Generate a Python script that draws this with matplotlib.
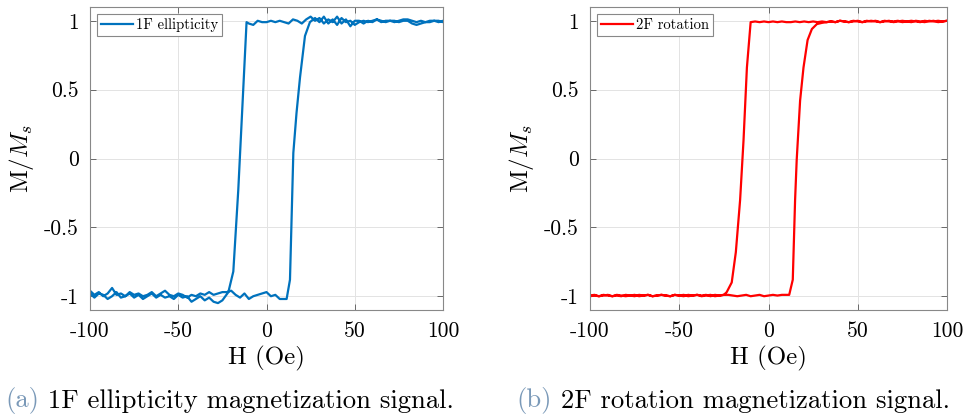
import numpy as np
import matplotlib
matplotlib.use("Agg")
import matplotlib.pyplot as plt

plt.rcParams['font.family'] = ['cmr10', 'DejaVu Serif']
plt.rcParams['mathtext.fontset'] = 'cm'
plt.rcParams['axes.unicode_minus'] = False

# ---- 1F ellipticity loop (blue) ----
# increasing field sweep: flat part, switching points, saturated part
blue_up_H = np.concatenate([np.arange(-100, 10.1, 2.5),
                            [11.4, 13.3, 15.2, 17.0, 19.0, 21.8, 24.6],
                            np.arange(27.5, 100.1, 2.5)])
blue_up_M = [-0.96, -0.99, -0.97, -1.00, -0.98, -0.94, -0.99, -0.98, -1.00, -0.97,
             -0.99, -0.98, -1.00, -0.99, -0.97, -1.00, -0.98, -0.96, -0.99, -1.00,
             -0.98, -0.99, -1.01, -0.99, -1.00, -0.98, -0.99, -0.97, -0.99, -0.98,
             -0.97, -0.97, -0.96, -0.99, -1.01, -0.98, -1.02, -1.00, -0.99, -0.98,
             -0.97, -1.00, -0.99, -1.02, -1.02,
             -1.02, -0.88, 0.04, 0.33, 0.59, 0.89, 0.99,
             1.02, 0.99, 1.03, 0.98, 1.01, 0.97, 1.02, 0.99, 1.00, 0.97,
             0.99, 1.00, 0.99, 1.00, 1.01, 0.99, 1.00, 1.00, 0.99, 1.00,
             1.01, 1.01, 1.00, 0.99, 1.00, 0.99, 1.00, 1.00, 0.99, 1.00]

# decreasing field sweep
blue_down_H = np.concatenate([np.arange(100, -10.1, -2.5),
                              [-11.3, -13.1, -16.0, -18.8, -21.6],
                              np.arange(-25, -100.1, -2.5)])
blue_down_M = [0.99, 1.00, 1.00, 0.99, 0.99, 0.98, 0.97, 0.98, 1.00, 1.00,
               0.99, 1.00, 1.00, 0.99, 1.00, 1.01, 0.99, 1.00, 0.98, 1.00,
               1.00, 0.96, 1.01, 0.98, 1.03, 0.99, 1.01, 0.98, 1.02, 1.00,
               1.03, 1.01, 0.98, 1.00, 1.01, 0.98, 0.99, 1.00, 0.99, 1.00,
               0.99, 0.99, 1.00, 0.97, 0.98,
               0.99, 0.52, -0.23, -0.82, -0.97,
               -1.03, -1.05, -1.04, -1.01, -1.03, -1.00, -1.02, -1.04, -1.00, -1.01,
               -0.99, -1.02, -1.00, -1.01, -0.99, -1.01, -0.98, -1.00, -1.02, -0.99,
               -1.01, -0.98, -1.00, -1.01, -0.97, -1.00, -1.02, -0.99, -0.98, -1.01,
               -0.98]

# ---- 2F rotation loop (red) ----
red_up_H = np.concatenate([np.arange(-100, 10.1, 2.5),
                           [11.6, 13.6, 14.9, 15.8, 17.7, 19.6, 21.9, 24.3, 27.1],
                           np.arange(30, 100.1, 2.5)])
red_up_M = [-0.995, -0.99, -1.0, -0.995, -0.99, -1.0, -0.995, -1.0, -0.99, -0.995,
            -1.0, -0.99, -0.995, -0.99, -1.0, -0.995, -0.99, -0.995, -1.0, -0.99,
            -0.995, -0.99, -1.0, -0.995, -0.99, -0.995, -0.99, -1.0, -0.99, -0.995,
            -0.99, -0.99, -0.995, -1.0, -0.995, -0.99, -1.0, -0.995, -0.99, -1.0,
            -0.995, -0.99, -0.995, -0.99, -0.99,
            -0.99, -0.88, -0.30, -0.01, 0.42, 0.66, 0.86, 0.94, 0.976,
            0.985, 0.99, 0.995, 0.99, 1.0, 0.995, 0.99, 1.0, 0.995, 0.99,
            1.0, 0.995, 1.0, 0.99, 0.995, 1.0, 0.99, 0.995, 1.0, 0.995,
            0.99, 1.0, 0.995, 0.99, 1.0, 0.995, 1.0, 0.995, 1.0]

red_down_H = np.concatenate([np.arange(100, -10.1, -2.5),
                             [-12.1, -14.0, -15.9, -18.3, -20.6, -23.4],
                             np.arange(-25, -100.1, -2.5)])
red_down_M = [1.0, 0.995, 0.99, 1.0, 0.995, 1.0, 0.99, 0.995, 1.0, 0.995,
              0.99, 1.0, 0.995, 0.995, 1.0, 0.99, 0.995, 1.0, 0.995, 0.99,
              1.0, 0.995, 0.99, 0.995, 1.0, 0.99, 0.995, 0.99, 0.995, 0.99,
              0.995, 0.99, 0.995, 0.99, 0.995, 0.99, 0.99, 0.995, 0.99, 0.995,
              0.99, 0.995, 0.99, 0.995, 0.99,
              0.66, 0.13, -0.30, -0.68, -0.90, -0.97,
              -0.99, -0.995, -1.0, -0.99, -0.995, -1.0, -0.99, -0.995, -0.99, -1.0,
              -0.995, -0.99, -1.0, -0.995, -0.99, -0.995, -1.0, -0.99, -0.995, -1.0,
              -0.99, -0.995, -1.0, -0.995, -0.99, -1.0, -0.995, -0.99, -1.0, -0.995,
              -1.0]

x_ticks = [-100, -50, 0, 50, 100]
x_labels = ['-100', '-50', '0', '50', '100']
y_ticks = [-1, -0.5, 0, 0.5, 1]
y_labels = ['-1', '-0.5', '0', '0.5', '1']

fig = plt.figure(figsize=(9.68, 4.19), dpi=100)
ax1 = fig.add_axes([90 / 968, 1 - 310 / 419, 353 / 968, 303 / 419])
ax2 = fig.add_axes([590 / 968, 1 - 310 / 419, 357 / 968, 303 / 419])

panels = [
    (ax1, blue_up_H, blue_up_M, blue_down_H, blue_down_M, '#0072BD', '1F ellipticity'),
    (ax2, red_up_H, red_up_M, red_down_H, red_down_M, '#FF0000', '2F rotation'),
]

for ax, uh, um, dh, dm, col, name in panels:
    H = np.concatenate([uh, dh])
    M = np.concatenate([um, dm])
    ax.plot(H, M, color=col, lw=1.6, label=name)
    ax.set_xlim(-100, 100)
    ax.set_ylim(-1.1, 1.1)
    ax.set_xticks(x_ticks)
    ax.set_xticklabels(x_labels)
    ax.set_yticks(y_ticks)
    ax.set_yticklabels(y_labels)
    ax.tick_params(direction='in', top=True, right=True, length=4, width=0.6,
                   color='#555555', labelsize=15.5, pad=8)
    ax.grid(True, color='#e3e3e3', lw=0.7)
    ax.set_axisbelow(True)
    for s in ax.spines.values():
        s.set_color('#888888')
        s.set_linewidth(0.8)
    ax.set_xlabel('H (Oe)', fontsize=18, labelpad=4)
    ax.set_ylabel('M/$M_s$', fontsize=18, labelpad=6)
    leg = ax.legend(loc='upper left', fontsize=10.5, handlelength=2.2,
                    handletextpad=0.2, borderpad=0.3, borderaxespad=0.45,
                    fancybox=False, framealpha=1)
    leg.get_frame().set_edgecolor('#888888')
    leg.get_frame().set_linewidth(0.8)

# sub-figure captions
cap_col = '#7a99b8'
cap_size = 19.2
ta = fig.text(5 / 968, 0.043, '(a)', color=cap_col, fontsize=cap_size, va='center')
ax1.annotate(' 1F ellipticity magnetization signal.', xy=(1, 0.5), xycoords=ta,
             va='center', ha='left', fontsize=cap_size, annotation_clip=False)
tb = fig.text(516 / 968, 0.043, '(b)', color=cap_col, fontsize=cap_size, va='center')
ax2.annotate(' 2F rotation magnetization signal.', xy=(1, 0.5), xycoords=tb,
             va='center', ha='left', fontsize=cap_size, annotation_clip=False)

fig.savefig('out.png', dpi=100)
